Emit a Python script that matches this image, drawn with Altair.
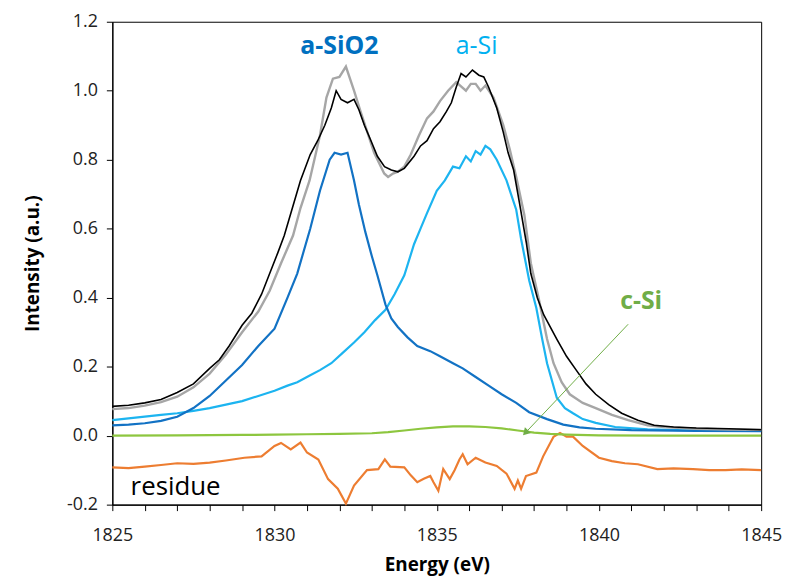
import altair as alt
import pandas as pd

# ---------------- data ----------------
exp_E = [1825.0, 1825.5, 1826.0, 1826.5, 1827.0, 1827.5, 1828.0, 1828.3, 1828.6, 1829.0,
         1829.3, 1829.6, 1829.85, 1830.1, 1830.3, 1830.55, 1830.8, 1831.1, 1831.33, 1831.55,
         1831.75, 1831.9, 1832.05, 1832.25, 1832.45, 1832.6, 1832.77, 1832.95, 1833.17, 1833.39,
         1833.6, 1833.8, 1834.0, 1834.3, 1834.5, 1834.7, 1834.9, 1835.1, 1835.3, 1835.45,
         1835.6, 1835.75, 1835.9, 1836.1, 1836.3, 1836.45, 1836.6, 1836.85, 1837.05, 1837.2,
         1837.37, 1837.55, 1837.76, 1837.9, 1838.1, 1838.3, 1838.7, 1839.0, 1839.3, 1839.6,
         1839.9, 1840.3, 1840.7, 1841.2, 1841.7, 1842.3, 1843.0, 1844.0, 1845.0]
exp_I = [0.085, 0.088, 0.095, 0.105, 0.125, 0.15, 0.195, 0.22, 0.26, 0.32,
         0.355, 0.41, 0.47, 0.53, 0.58, 0.66, 0.74, 0.815, 0.855, 0.90,
         0.95, 1.00, 0.975, 0.965, 0.975, 0.945, 0.90, 0.86, 0.81, 0.78,
         0.77, 0.765, 0.775, 0.81, 0.84, 0.855, 0.89, 0.91, 0.94, 0.965,
         1.01, 1.05, 1.04, 1.06, 1.045, 1.04, 1.01, 0.95, 0.88, 0.82,
         0.77, 0.675, 0.56, 0.47, 0.40, 0.35, 0.28, 0.23, 0.19, 0.15,
         0.12, 0.09, 0.065, 0.045, 0.03, 0.025, 0.022, 0.02, 0.017]

fit_E = [1825.0, 1825.5, 1826.0, 1826.5, 1827.0, 1827.5, 1828.0, 1828.5, 1829.0, 1829.5,
         1829.85, 1830.2, 1830.57, 1830.8, 1831.08, 1831.4, 1831.6, 1831.8, 1832.0, 1832.2,
         1832.45, 1832.65, 1833.07, 1833.38, 1833.5, 1833.65, 1833.8, 1834.0, 1834.2, 1834.45,
         1834.7, 1834.9, 1835.1, 1835.35, 1835.6, 1835.9, 1836.05, 1836.2, 1836.35, 1836.5,
         1836.75, 1837.05, 1837.25, 1837.45, 1837.7, 1837.9, 1838.16, 1838.4, 1838.6, 1838.85,
         1839.1, 1839.5, 1839.9, 1840.4, 1840.9, 1841.5, 1842.0, 1843.0, 1844.0, 1845.0]
fit_I = [0.077, 0.08, 0.087, 0.097, 0.113, 0.14, 0.18, 0.235, 0.30, 0.36,
         0.42, 0.50, 0.58, 0.66, 0.74, 0.87, 0.98, 1.035, 1.04, 1.07,
         1.0, 0.94, 0.82, 0.76, 0.75, 0.76, 0.765, 0.78, 0.815, 0.87,
         0.92, 0.94, 0.97, 1.0, 1.025, 1.0, 1.02, 1.02, 1.0, 1.015,
         0.98, 0.90, 0.83, 0.75, 0.64, 0.50, 0.39, 0.28, 0.21, 0.155,
         0.12, 0.095, 0.08, 0.06, 0.045, 0.03, 0.025, 0.02, 0.018, 0.017]

sio2_E = [1825.0, 1825.5, 1826.0, 1826.5, 1827.0, 1827.5, 1828.0, 1828.5, 1829.0, 1829.5,
          1830.0, 1830.4, 1830.7, 1831.1, 1831.4, 1831.7, 1831.85, 1832.05, 1832.25, 1832.45,
          1832.6, 1832.8, 1833.0, 1833.17, 1833.42, 1833.6, 1833.8, 1834.1, 1834.4, 1834.8,
          1835.1, 1835.5, 1835.8, 1836.2, 1836.6, 1837.0, 1837.45, 1837.85, 1838.4, 1838.9,
          1839.4, 1839.9, 1841.0, 1843.0, 1845.0]
sio2_I = [0.03, 0.032, 0.036, 0.043, 0.055, 0.08, 0.115, 0.16, 0.205, 0.26,
          0.31, 0.40, 0.47, 0.60, 0.71, 0.80, 0.82, 0.815, 0.82, 0.74,
          0.67, 0.59, 0.52, 0.465, 0.38, 0.34, 0.315, 0.285, 0.26, 0.245,
          0.23, 0.21, 0.195, 0.17, 0.145, 0.12, 0.095, 0.068, 0.048, 0.032,
          0.024, 0.02, 0.016, 0.014, 0.013]

asi_E = [1825.0, 1825.5, 1826.0, 1826.5, 1827.0, 1827.5, 1828.0, 1828.5, 1829.0, 1829.5,
         1830.0, 1830.4, 1830.7, 1831.1, 1831.4, 1831.75, 1832.1, 1832.45, 1832.77, 1833.1,
         1833.42, 1833.7, 1834.0, 1834.3, 1834.5, 1834.7, 1835.0, 1835.25, 1835.5, 1835.7,
         1835.9, 1836.05, 1836.2, 1836.35, 1836.5, 1836.65, 1836.85, 1837.15, 1837.45, 1837.6,
         1837.85, 1838.07, 1838.25, 1838.4, 1838.7, 1838.95, 1839.2, 1839.5, 1839.9, 1840.5,
         1841.5, 1843.0, 1845.0]
asi_I = [0.045, 0.05, 0.055, 0.06, 0.065, 0.072, 0.08, 0.09, 0.10, 0.115,
         0.13, 0.145, 0.155, 0.175, 0.19, 0.21, 0.24, 0.27, 0.30, 0.335,
         0.365, 0.41, 0.465, 0.555, 0.60, 0.645, 0.71, 0.74, 0.78, 0.775,
         0.81, 0.795, 0.825, 0.815, 0.84, 0.83, 0.80, 0.74, 0.655, 0.57,
         0.45, 0.37, 0.28, 0.21, 0.11, 0.08, 0.065, 0.048, 0.037, 0.025,
         0.018, 0.015, 0.014]

csi_E = [1825.0, 1827.0, 1829.0, 1830.0, 1831.0, 1832.0, 1833.0, 1833.5, 1834.0, 1834.5,
         1835.0, 1835.5, 1836.0, 1836.5, 1837.0, 1837.5, 1838.0, 1838.5, 1839.0, 1840.0,
         1842.0, 1845.0]
csi_I = [0.0, 0.001, 0.002, 0.003, 0.004, 0.005, 0.007, 0.01, 0.015, 0.02,
         0.024, 0.027, 0.027, 0.025, 0.021, 0.015, 0.009, 0.005, 0.003, 0.001,
         0.0, 0.0]

res_E = [1825.0, 1825.5, 1826.0, 1826.5, 1827.0, 1827.5, 1828.0, 1828.5, 1829.07, 1829.6,
         1830.0, 1830.2, 1830.5, 1830.8, 1831.0, 1831.35, 1831.65, 1831.95, 1832.2, 1832.45,
         1832.85, 1833.2, 1833.4, 1833.57, 1834.0, 1834.2, 1834.4, 1834.6, 1834.8, 1834.9,
         1835.05, 1835.2, 1835.4, 1835.55, 1835.7, 1835.8, 1835.95, 1836.2, 1836.5, 1836.85,
         1837.15, 1837.4, 1837.5, 1837.6, 1837.75, 1838.07, 1838.28, 1838.6, 1838.8, 1839.0,
         1839.2, 1839.5, 1840.0, 1840.4, 1840.8, 1841.2, 1841.8, 1842.3, 1842.9, 1843.4,
         1843.9, 1844.4, 1845.0]
res_I = [-0.092, -0.094, -0.09, -0.085, -0.08, -0.082, -0.078, -0.072, -0.064, -0.06,
         -0.03, -0.021, -0.04, -0.02, -0.049, -0.069, -0.126, -0.154, -0.197, -0.145,
         -0.10, -0.097, -0.069, -0.09, -0.092, -0.115, -0.135, -0.125, -0.117, -0.135,
         -0.16, -0.097, -0.126, -0.10, -0.069, -0.054, -0.083, -0.064, -0.078, -0.088,
         -0.11, -0.154, -0.13, -0.154, -0.117, -0.107, -0.06, -0.003, 0.008, -0.003,
         -0.003, -0.03, -0.064, -0.074, -0.08, -0.083, -0.097, -0.095, -0.097, -0.1,
         -0.1, -0.098, -0.1]

# annotation texts and anchors
label_text = ["a-SiO2", "a-Si", "c-Si", "residue"]
label_E = [1832.0, 1836.23, 1841.3, 1826.95]
label_I = [1.13, 1.13, 0.39, -0.15]
label_color = ["#0070C0", "#00B0F0", "#70AD47", "#000000"]
label_weight = ["bold", "normal", "bold", "normal"]
label_size = [25, 25, 25, 26]

arrow_E = [1840.9]
arrow_I = [0.323]
arrow_E2 = [1837.76]
arrow_I2 = [0.011]

x_ticks = list(range(1825, 1846))
y_ticks = [-0.2, 0.0, 0.2, 0.4, 0.6, 0.8, 1.0, 1.2]

# ---------------- build frames ----------------
def frame(E, I, name):
    return pd.DataFrame({"E": E, "I": I, "s": name})

lines = pd.concat([
    frame(res_E, res_I, "residue"),
    frame(csi_E, csi_I, "c-Si"),
    frame(asi_E, asi_I, "a-Si"),
    frame(sio2_E, sio2_I, "a-SiO2"),
    frame(fit_E, fit_I, "fit"),
    frame(exp_E, exp_I, "exp"),
], ignore_index=True)

order = ["residue", "c-Si", "a-Si", "a-SiO2", "fit", "exp"]
colors = ["#ED7D31", "#8DC63F", "#1CB4F0", "#1272C4", "#A6A6A6", "#000000"]
widths = [2.2, 2.2, 2.2, 2.2, 2.4, 1.6]

font = "Open Sans"

xscale = alt.Scale(domain=[1825, 1845], nice=False, zero=False)
yscale = alt.Scale(domain=[-0.2, 1.2], nice=False, zero=False)

xaxis = alt.Axis(values=x_ticks, labelExpr="(datum.value % 5 == 0) ? format(datum.value, 'd') : ''",
                 grid=False, tickSize=6, tickWidth=1, labelPadding=16,
                 labelOverlap=False, labelFlush=False,
                 title="Energy (eV)", titlePadding=11)
yaxis = alt.Axis(values=y_ticks,
                 labelExpr="datum.value < -0.001 ? '-' + format(-datum.value, '.1f') : format(datum.value, '.1f')",
                 grid=False, tickSize=6, tickWidth=1, labelPadding=9,
                 labelOverlap=False, labelFlush=False,
                 title="Intensity (a.u.)", titlePadding=24)


def X(field):
    return alt.X(field, type="quantitative", scale=xscale, axis=xaxis)


def Y(field):
    return alt.Y(field, type="quantitative", scale=yscale, axis=yaxis)


base_layers = []
for name, c, w in zip(order, colors, widths):
    base_layers.append(
        alt.Chart(lines[lines["s"] == name]).mark_line(color=c, strokeWidth=w, interpolate="linear").encode(
            x=X("E"), y=Y("I"),
        )
    )

arrow_df = pd.DataFrame({"E": arrow_E, "I": arrow_I, "E2": arrow_E2, "I2": arrow_I2})
arrow_line = alt.Chart(arrow_df).mark_rule(color="#70AD47", strokeWidth=1).encode(
    x=X("E"), y=Y("I"), x2="E2:Q", y2="I2:Q")
arrow_head = alt.Chart(arrow_df).mark_point(shape="triangle", filled=True, color="#70AD47",
                                            size=70, angle=223, opacity=1).encode(
    x=X("E2"), y=Y("I2"))

lab_df = pd.DataFrame({"t": label_text, "E": label_E, "I": label_I})
text_layers = []
for i in range(len(label_text)):
    text_layers.append(
        alt.Chart(lab_df.iloc[[i]]).mark_text(font=font, fontSize=label_size[i],
                                              fontWeight=label_weight[i], color=label_color[i],
                                              align="center", baseline="middle").encode(
            x=X("E"), y=Y("I"), text="t:N")
    )

chart = alt.layer(*base_layers, arrow_line, arrow_head, *text_layers).properties(
    width=653, height=486,
    autosize=alt.AutoSizeParams(type="none"),
    padding={"left": 105, "top": 12, "right": 25, "bottom": 72},
).configure_view(stroke="#000000", strokeWidth=1).configure_axis(
    domainColor="#000000", tickColor="#000000", labelColor="#222222",
    labelFont=font, labelFontSize=18, titleFont=font, titleFontSize=19,
    titleFontWeight="bold", titleColor="#000000", domainWidth=1.2,
)

chart.save("out.html", embed_options={"renderer": "svg", "actions": False})
